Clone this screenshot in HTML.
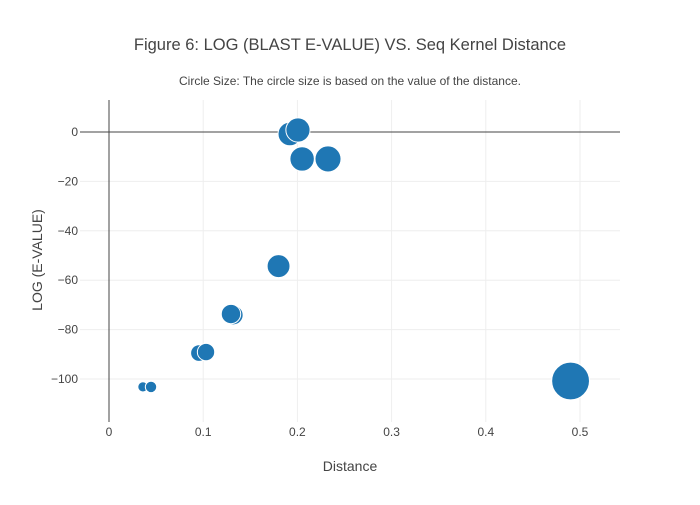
<!DOCTYPE html>
<html><head><meta charset="utf-8"><style>
body{margin:0;background:#fff;font-family:"Liberation Sans",sans-serif}
svg text{font-family:"Liberation Sans",sans-serif;fill:#444}
</style></head><body>
<svg id="chart" width="700" height="500">
<rect width="700" height="500" fill="#fff"/>
<text x="350" y="50" text-anchor="middle" font-size="16.5">Figure 6: LOG (BLAST E-VALUE) VS. Seq Kernel Distance</text>
<text x="350" y="85" text-anchor="middle" font-size="12">Circle Size: The circle size is based on the value of the distance.</text>
<g id="grid"></g><g id="axes"></g><g id="marks"></g>
<text x="350" y="471" text-anchor="middle" font-size="14">Distance</text>
<text transform="translate(42,260) rotate(-90)" text-anchor="middle" font-size="14">LOG (E-VALUE)</text>
</svg>
<script>
const xs=[0.192,0.2006,0.205,0.2325,0.180,0.132,0.1295,0.0955,0.103,0.036,0.0446,0.490];
const ys=[-0.8,0.8,-10.9,-10.9,-54.3,-74.1,-73.7,-89.5,-89.1,-103.2,-103.2,-100.8];
const xTicks=[0,0.1,0.2,0.3,0.4,0.5];
const yTicks=[0,-20,-40,-60,-80,-100];
const L=80,R=620,T=100,B=422;
const X=v=>109+v*942, Y=v=>132-v*2.47;
const NS="http://www.w3.org/2000/svg";
function mk(t,a,p){const e=document.createElementNS(NS,t);for(const k in a)e.setAttribute(k,a[k]);document.getElementById(p).appendChild(e);return e;}
xTicks.forEach(t=>{
 if(t!==0){const g=mk('line',{x1:X(t),x2:X(t),y1:T,y2:B,stroke:'#eee'},'grid');
 
 }
 const l=mk('text',{x:X(t),y:B+14,'text-anchor':'middle','font-size':12},'axes');l.textContent=t;
 
 
});
yTicks.forEach(t=>{
 if(t!==0){const g=mk('line',{x1:L,x2:R,y1:Y(t),y2:Y(t),stroke:'#eee'},'grid');
 
 }
 const l=mk('text',{x:L-2,y:Y(t)+4,'text-anchor':'end','font-size':12},'axes');l.textContent=t===0?'0':'\u2212'+Math.abs(t);
 
 
});
const z1=mk('line',{x1:L,x2:R,y1:Y(0),y2:Y(0),stroke:'#444','stroke-width':1},'axes');


const z2=mk('line',{x1:X(0),x2:X(0),y1:T,y2:B,stroke:'#444','stroke-width':1},'axes');


xs.forEach((x,i)=>{
 const c=mk('circle',{cx:X(x),cy:Y(ys[i]),r:27*Math.sqrt(x),fill:'#1f77b4',stroke:'#fff','stroke-width':1},'marks');
 
 
});
</script>
</body></html>
